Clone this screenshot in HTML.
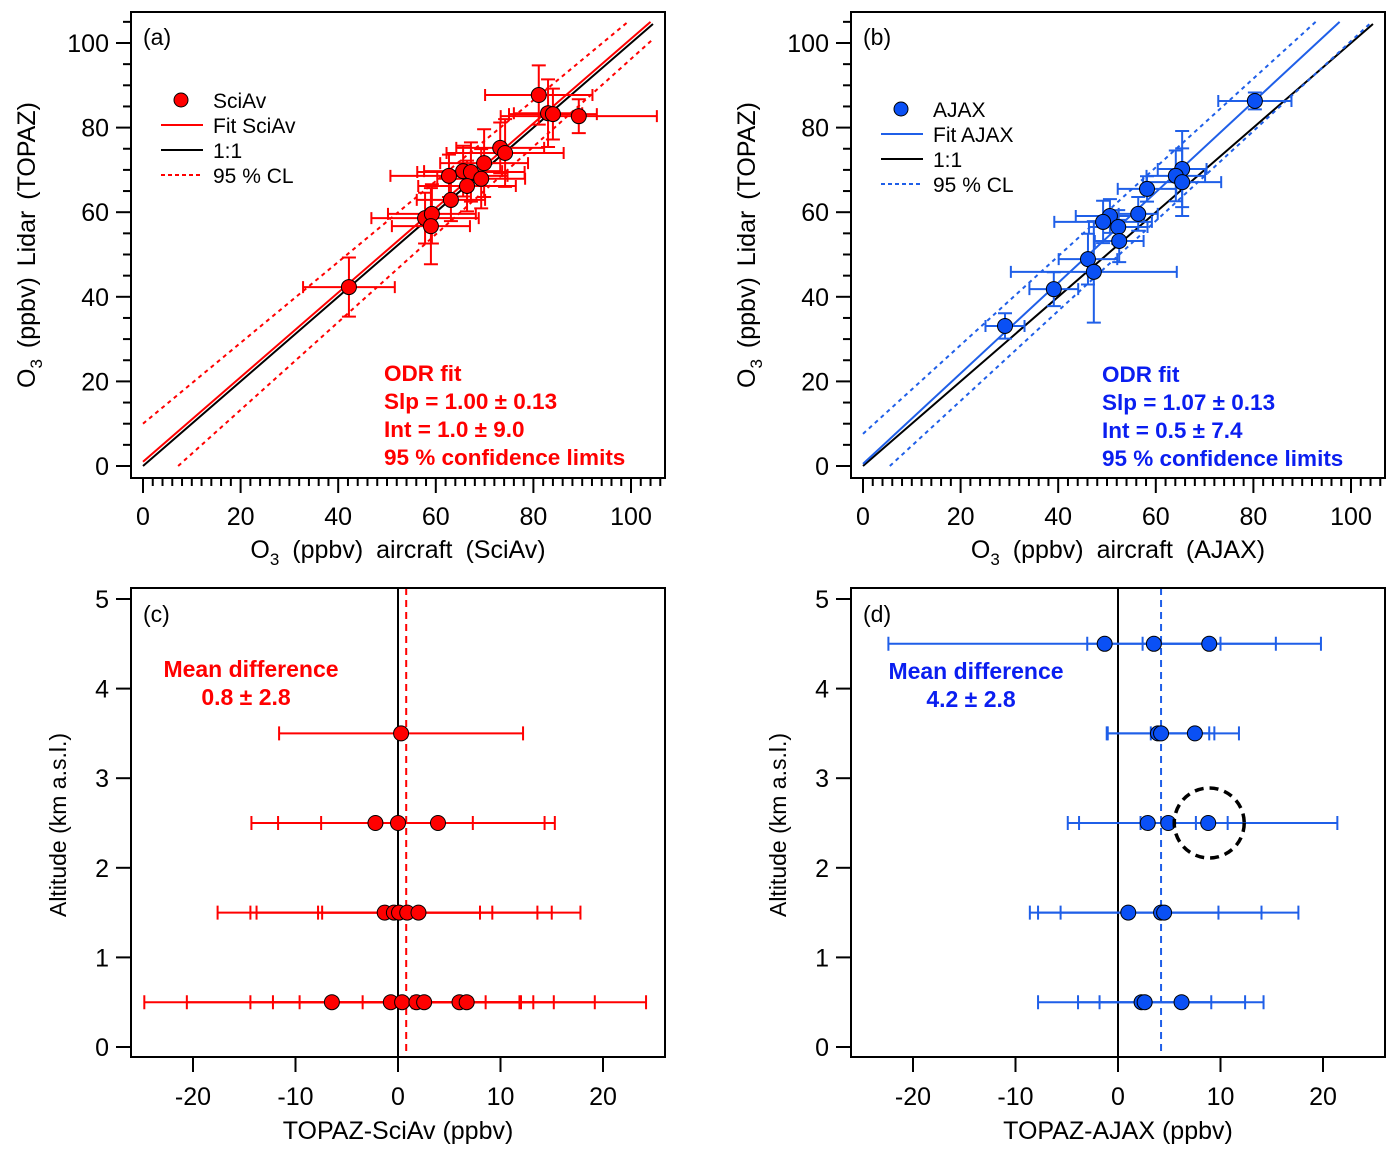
<!DOCTYPE html>
<html><head><meta charset="utf-8"><style>
html,body{margin:0;padding:0;background:#fff;}
svg{display:block;font-family:"Liberation Sans",sans-serif;}
</style></head><body>
<svg id="fig" width="1398" height="1157" viewBox="0 0 1398 1157" xmlns="http://www.w3.org/2000/svg"></svg>
<script>
// ---- data panel (a) SciAv ----
const aX=[81.1,83.0,84.0,89.3,73.2,74.2,69.9,65.6,67.2,62.7,69.3,66.4,63.1,57.8,59.2,59.0,42.2];
const aY=[87.7,83.4,83.2,82.7,75.2,74.0,71.6,69.7,69.5,68.6,67.9,66.2,62.9,58.6,59.6,56.7,42.3];
const aXe=[11,7,9,16,9,12,9,8,11,12,9,10,7,11,9,8,9.4];
const aYe=[7,8,6,4,6,8,8,6,7,5,7,6,5,6,7,9,7];
const aFit=[1.00,1.0]; // slope, intercept
// ---- data panel (b) AJAX ----
const bX=[80.3,65.4,64.1,65.4,58.2,56.4,50.6,49.2,52.3,52.5,46.1,47.3,39.1,29.1];
const bY=[86.3,70.2,68.6,67.1,65.5,59.6,59.1,57.7,56.5,53.2,48.9,45.9,41.8,33.1];
const bXe=[7.5,5,6,8,6,4,7,10,6,5,6,17,5,4];
const bYe=[2,9,6,8,3,4,4,5,4,5,6,12,4,3];
const bFit=[1.07,0.5];
// ---- data panel (c) ----
const cAlt=[3.5,2.5,2.5,2.5,1.5,1.5,1.5,1.5,1.5,0.5,0.5,0.5,0.5,0.5,0.5,0.5];
const cDiff=[0.3,-2.2,0.0,3.9,-1.3,-0.4,0.1,0.9,2.0,-6.45,-0.7,0.4,1.8,2.55,6.0,6.7];
const cErr=[11.9,9.5,14.3,11.4,16.3,14.0,7.9,8.3,15.8,18.3,19.9,14.8,11.4,6.0,18.2,5.3];
const cMean=0.8;
// ---- data panel (d) ----
const dAlt=[4.5,4.5,4.5,3.5,3.5,3.5,2.5,2.5,2.5,1.5,1.5,1.5,0.5,0.5,0.5];
const dDiff=[-1.3,3.5,8.9,3.9,4.2,7.5,2.9,4.9,8.8,1.0,4.2,4.5,2.3,2.6,6.2];
const dErr=[21.1,6.5,6.5,5.0,5.2,4.3,7.8,2.7,12.6,8.8,9.8,13.1,10.1,6.5,8.0];
const dMean=4.2;
const dCircle=[8.9,2.5];

const NS="http://www.w3.org/2000/svg";
const svg=document.getElementById('fig');
function el(tag,attrs,parent,text){const e=document.createElementNS(NS,tag);for(const k in attrs)e.setAttribute(k,attrs[k]);if(text!==undefined)e.textContent=text;(parent||svg).appendChild(e);return e;}

function lin(d0,d1,r0,r1){return v=>r0+(v-d0)*(r1-r0)/(d1-d0);}

function frame(g,x0,y0,x1,y1){
  const r=el('rect',{x:x0,y:y0,width:x1-x0,height:y1-y0,fill:'none',stroke:'#000','stroke-width':2},g);
  
  
}

// ---------- scatter panels ----------
function scatterPanel(opt){
  const g=el('g',{});
  
  
  const sx=lin(0,100,opt.x0,opt.x0+488), sy=lin(0,100,466,43);
  const L=opt.fl, T=12, R=opt.fl+534, B=478;
  for(let v=0;v<=105;v+=5){const y=sy(v);const maj=v%20===0;
    el('line',{x1:L-(maj?15:8),x2:L,y1:y,y2:y,stroke:'#000','stroke-width':2},g);
    if(maj){const t=el('text',{x:L-22,y:y+9,'text-anchor':'end','font-size':25},g,String(v));
      }}
  for(let v=0;v<=106;v+=2){const x=sx(v);const maj=v%20===0;
    el('line',{x1:x,x2:x,y1:B,y2:B+(maj?15:8),stroke:'#000','stroke-width':2},g);
    if(maj){const t=el('text',{x:x,y:525,'text-anchor':'middle','font-size':25},g,String(v));
      }}
  const line=(m,b,xa,col,dash,name)=>{const xb=Math.min(104.5,(105-b)/m);
    const l=el('line',{x1:sx(xa),y1:sy(m*xa+b),x2:sx(xb),y2:sy(m*xb+b),stroke:col,'stroke-width':2,'stroke-dasharray':dash||'none'},g);
    };
  line(1,0,0,'#000',null,'one-to-one-line');
  line(opt.fit[0],opt.fit[1],0,opt.lc,null,'fit-line');
  line(opt.cu[0],opt.cu[1],0,opt.lc,'4,4','upper-confidence-limit');
  line(opt.cl[0],opt.cl[1],opt.cl[2],opt.lc,'4,4','lower-confidence-limit');
  opt.X.forEach((xv,i)=>{const yv=opt.Y[i];const cx=sx(xv),cy=sy(yv);
    const xa=sx(xv-opt.Xe[i]),xb=sx(xv+opt.Xe[i]),ya=sy(yv-opt.Ye[i]),yb=sy(yv+opt.Ye[i]);
    const e=el('path',{d:`M${xa},${cy}H${xb}M${cx},${ya}V${yb}M${xa},${cy-6}V${cy+6}M${xb},${cy-6}V${cy+6}M${cx-7},${ya}H${cx+7}M${cx-7},${yb}H${cx+7}`,stroke:opt.lc,'stroke-width':2,fill:'none'},g);
    });
  opt.X.forEach((xv,i)=>{const c=el('circle',{cx:sx(xv),cy:sy(opt.Y[i]),r:7.5,fill:opt.pc,stroke:'#000','stroke-width':1},g);
    });
  frame(g,L,T,R,B);
  const pl=el('text',{x:L+12,y:45,'font-size':23},g,opt.label);
  const lx=L+30, ly=opt.ly;
  const leg=el('g',{},g);
  el('circle',{cx:lx+20,cy:ly,r:7,fill:opt.pc,stroke:'#000','stroke-width':1},leg);
  el('line',{x1:lx,x2:lx+42,y1:ly+25,y2:ly+25,stroke:opt.lc,'stroke-width':2},leg);
  el('line',{x1:lx,x2:lx+42,y1:ly+50,y2:ly+50,stroke:'#000','stroke-width':2},leg);
  el('line',{x1:lx,x2:lx+42,y1:ly+75,y2:ly+75,stroke:opt.lc,'stroke-width':2,'stroke-dasharray':'4,3'},leg);
  opt.leg.forEach((s,i)=>el('text',{x:lx+52,y:ly+8+25*i,'font-size':21},leg,s));
  const od=el('g',{fill:opt.tc,'font-weight':'bold','font-size':22.5},g);
  opt.odr.forEach((s,i)=>el('text',{x:opt.ox,y:opt.oy+28*i},od,s));
  const yt=el('text',{transform:`translate(${opt.fl-96},245) rotate(-90)`,'text-anchor':'middle','font-size':25,'word-spacing':4},g);
  
  yt.innerHTML='O<tspan dy="7" font-size="17">3</tspan><tspan dy="-7"> (ppbv) Lidar (TOPAZ)</tspan>';
  const xt=el('text',{x:opt.fl+267,y:558,'text-anchor':'middle','font-size':25,'word-spacing':6},g);
  
  xt.innerHTML='O<tspan dy="7" font-size="17">3</tspan><tspan dy="-7"> (ppbv) aircraft ('+opt.src+')</tspan>';
}

scatterPanel({name:'panel-a',x0:143,fl:131,X:aX,Y:aY,Xe:aXe,Ye:aYe,fit:aFit,cu:[0.956,10],cl:[1.037,-7.47,7.2],
  lc:'#ff0000',pc:'#ff0000',tc:'#ff0000',label:'(a)',ly:100,leg:['SciAv','Fit SciAv','1:1','95 % CL'],
  odr:['ODR fit','Slp = 1.00 ± 0.13','Int = 1.0 ± 9.0','95 % confidence limits'],ox:384,oy:381,src:'SciAv'});
scatterPanel({name:'panel-b',x0:863,fl:851,X:bX,Y:bY,Xe:bXe,Ye:bYe,fit:bFit,cu:[1.05,7.6],cl:[1.063,-5.85,5.5],
  lc:'#1f5fe8',pc:'#0a50f5',tc:'#0a1ef0',label:'(b)',ly:109,leg:['AJAX','Fit AJAX','1:1','95 % CL'],
  odr:['ODR fit','Slp = 1.07 ± 0.13','Int = 0.5 ± 7.4','95 % confidence limits'],ox:1102,oy:382,src:'AJAX'});

// ---------- difference panels ----------
function diffPanel(opt){
  const g=el('g',{});
  
  
  const sx=lin(0,20,opt.zx,opt.zx+205), sy=lin(0,5,1047,599);
  const L=opt.fl,T=588,R=opt.fl+534,B=1057;
  for(let v=0;v<=5;v++){const y=sy(v);el('line',{x1:L-15,x2:L,y1:y,y2:y,stroke:'#000','stroke-width':2},g);
    const t=el('text',{x:L-22,y:y+9,'text-anchor':'end','font-size':25},g,String(v));}
  for(let v=-20;v<=20;v+=10){const x=sx(v);el('line',{x1:x,x2:x,y1:B,y2:B+15,stroke:'#000','stroke-width':2},g);
    const t=el('text',{x:x,y:1105,'text-anchor':'middle','font-size':25},g,String(v));}
  const z=el('line',{x1:sx(0),x2:sx(0),y1:T,y2:B,stroke:'#000','stroke-width':2},g);
  const m=el('line',{x1:sx(opt.mean),x2:sx(opt.mean),y1:T,y2:B,stroke:opt.lc,'stroke-width':2,'stroke-dasharray':'7,5'},g);
  opt.D.forEach((dv,i)=>{const cy=sy(opt.A[i]);const xa=sx(dv-opt.E[i]),xb=sx(dv+opt.E[i]);
    const e=el('path',{d:`M${xa},${cy}H${xb}M${xa},${cy-7}V${cy+7}M${xb},${cy-7}V${cy+7}`,stroke:opt.lc,'stroke-width':2,fill:'none'},g);
    });
  opt.D.forEach((dv,i)=>{const c=el('circle',{cx:sx(dv),cy:sy(opt.A[i]),r:7.5,fill:opt.pc,stroke:'#000','stroke-width':1},g);
    });
  if(opt.circle){const c=el('circle',{cx:sx(opt.circle[0]),cy:sy(opt.circle[1]),r:35,fill:'none',stroke:'#000','stroke-width':3.5,'stroke-dasharray':'9,6'},g);
    }
  frame(g,L,T,R,B);
  const pl=el('text',{x:L+12,y:622,'font-size':23},g,opt.label);
  const md=el('g',{fill:opt.tc,'font-weight':'bold','font-size':23,'text-anchor':'middle'},g);
  el('text',{x:opt.mx,y:opt.my},md,'Mean difference');
  el('text',{x:opt.mx-5,y:opt.my+28},md,opt.mtxt);
  const yt=el('text',{transform:`translate(${opt.fl-65},825) rotate(-90)`,'text-anchor':'middle','font-size':23},g,'Altitude (km a.s.l.)');
  
  const xt=el('text',{x:opt.fl+267,y:1139,'text-anchor':'middle','font-size':25},g,opt.xt);
  
}
diffPanel({name:'panel-c',zx:398,fl:131,A:cAlt,D:cDiff,E:cErr,mean:cMean,lc:'#ff0000',pc:'#ff0000',tc:'#ff0000',label:'(c)',
  mx:251,my:677,mtxt:'0.8 ± 2.8',xt:'TOPAZ-SciAv (ppbv)'});
diffPanel({name:'panel-d',zx:1118,fl:851,A:dAlt,D:dDiff,E:dErr,mean:dMean,lc:'#1f5fe8',pc:'#0a50f5',tc:'#0a1ef0',label:'(d)',
  mx:976,my:679,mtxt:'4.2 ± 2.8',xt:'TOPAZ-AJAX (ppbv)',circle:dCircle});
</script>
</body></html>
